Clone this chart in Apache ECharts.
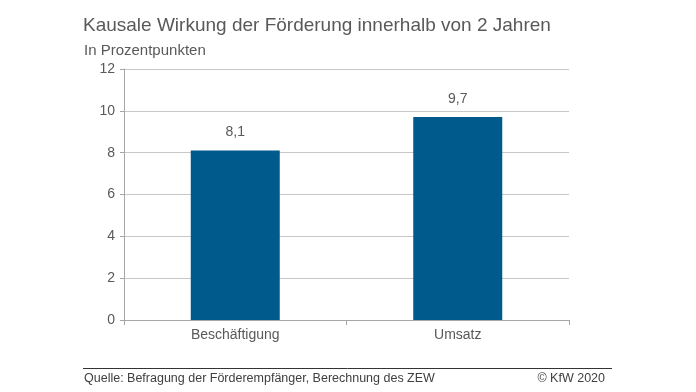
<!DOCTYPE html>
<html><head><meta charset="utf-8">
<script src="https://cdn.jsdelivr.net/npm/echarts@6/dist/echarts.min.js"></script>
<style>html,body{margin:0;padding:0;background:#fff}#c{width:696px;height:392px}</style>
</head><body><div id="c"></div>
<script>
const categories = ["Beschäftigung", "Umsatz"];
const values = [8.1, 9.7];
const yTicks = [0, 2, 4, 6, 8, 10, 12];
const titleText = "Kausale Wirkung der Förderung innerhalb von 2 Jahren";
const subtitleText = "In Prozentpunkten";
const sourceText = "Quelle: Befragung der Förderempfänger, Berechnung des ZEW";
const copyrightText = "© KfW 2020";

const chart = echarts.init(document.getElementById('c'), null, {renderer: 'canvas'});
const font = "'Liberation Sans', Arial, sans-serif";
const gray = '#595959';
chart.setOption({
  animation: false,
  textStyle: {fontFamily: font},
  grid: {left: 124, right: 127, top: 69, bottom: 72},
  graphic: [
    {type: 'text', left: 83, top: 16, style: {text: titleText, font: "19px " + font, fill: gray}},
    {type: 'text', left: 84, top: 43, style: {text: subtitleText, font: "15px " + font, fill: gray}},
    {type: 'line', shape: {x1: 83, y1: 368.5, x2: 612, y2: 368.5}, style: {stroke: '#333', lineWidth: 1}},
    {type: 'text', left: 84, top: 372, style: {text: sourceText, font: "12.5px " + font, fill: '#404040'}},
    {type: 'text', right: 91, top: 372, style: {text: copyrightText, font: "12.5px " + font, fill: '#404040'}}
  ],
  xAxis: {
    type: 'category', data: categories,
    axisLine: {lineStyle: {color: '#a6a6a6'}},
    axisTick: {show: true, length: 5, lineStyle: {color: '#a6a6a6'}},
    axisLabel: {color: gray, fontSize: 14, margin: 8, fontFamily: font}
  },
  yAxis: {
    type: 'value', min: 0, max: 12, interval: 2,
    axisLine: {show: true, lineStyle: {color: '#a6a6a6'}},
    axisTick: {show: true, length: 4, lineStyle: {color: '#a6a6a6'}},
    axisLabel: {color: gray, fontSize: 14, margin: 9, fontFamily: font,
      formatter: v => yTicks.includes(v) ? String(v) : ''},
    splitLine: {lineStyle: {color: '#c8c8c8'}}
  },
  series: [{
    type: 'bar', data: values, barWidth: 89,
    itemStyle: {color: '#005a8c'},
    label: {show: true, position: 'top', distance: 11, color: gray, fontSize: 14, fontFamily: font,
      formatter: p => String(p.value).replace('.', ',')}
  }]
});
</script></body></html>
